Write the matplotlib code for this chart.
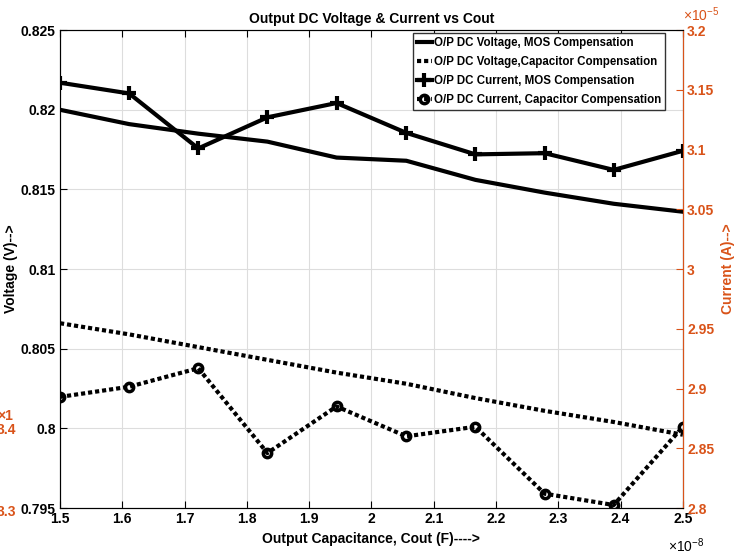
import numpy as np
import matplotlib
matplotlib.use('Agg')
import matplotlib.pyplot as plt

plt.rcParams['font.family'] = ['Liberation Sans', 'DejaVu Sans']
plt.rcParams['font.weight'] = 'bold'
plt.rcParams['mathtext.fontset'] = 'custom'
plt.rcParams['mathtext.rm'] = 'Liberation Sans'
plt.rcParams['mathtext.default'] = 'regular'

# data (x in 1e-8 F, current in 1e-5 A)
cout = [1.5, 1.611, 1.722, 1.833, 1.944, 2.056, 2.167, 2.278, 2.389, 2.5]
v_mos = [0.8200, 0.8191, 0.8185, 0.8180, 0.8170, 0.8168, 0.8156, 0.8148, 0.8141, 0.8136]
v_cap = [0.8066, 0.8059, 0.8051, 0.8043, 0.8035, 0.8028, 0.8019, 0.8011, 0.8004, 0.7996]
i_mos = [3.156, 3.147, 3.101, 3.127, 3.139, 3.114, 3.096, 3.097, 3.083, 3.099]
i_cap = [2.893, 2.9015, 2.917, 2.846, 2.885, 2.860, 2.868, 2.812, 2.8025, 2.868]
xticks = [1.5, 1.6, 1.7, 1.8, 1.9, 2.0, 2.1, 2.2, 2.3, 2.4, 2.5]
vticks = [0.795, 0.8, 0.805, 0.81, 0.815, 0.82, 0.825]
iticks = [2.8, 2.85, 2.9, 2.95, 3.0, 3.05, 3.1, 3.15, 3.2]

orange = '#D95319'
dot = (0, (1.0, 0.7))
fs = 10

fig = plt.figure(figsize=(7.39, 5.58), dpi=100)
ax = fig.add_axes([0.0812, 0.0896, 0.8428, 0.8564])
ax2 = ax.twinx()

l1, = ax.plot(cout, v_mos, color='black', lw=3)
l2, = ax.plot(cout, v_cap, color='black', lw=3, linestyle=dot, dash_capstyle='butt')
l3, = ax2.plot(cout, i_mos, color='black', lw=3, marker='+', ms=10, mew=3)
l4, = ax2.plot(cout, i_cap, color='black', lw=3, linestyle=dot, dash_capstyle='butt',
               marker='o', ms=6, mfc='none', mew=2.5)

ax.set_xlim(1.5, 2.5)
ax.set_ylim(0.795, 0.825)
ax2.set_ylim(2.8, 3.2)
ax.set_xticks(xticks)
ax.set_xticklabels(['%g' % t for t in xticks])
ax.set_yticks(vticks)
ax.set_yticklabels(['%g' % t for t in vticks])
ax2.set_yticks(iticks)
ax2.set_yticklabels(['%g' % t for t in iticks])

ax.grid(True, color='#dddddd', lw=0.8)
ax.tick_params(direction='in', labelsize=fs, top=True, right=False, length=5, pad=3)
ax2.tick_params(direction='in', labelsize=fs, colors=orange, length=5, pad=3)
for s in ['left', 'bottom', 'top']:
    ax.spines[s].set_color('#262626')
ax2.spines['right'].set_color(orange)
for lab in ax.get_xticklabels() + ax.get_yticklabels() + ax2.get_yticklabels():
    lab.set_fontweight('bold')

# exponent labels of the axes
ax.text(1.005, -0.06, r'$\times10^{-8}$', transform=ax.transAxes, fontsize=10,
        ha='center', va='top', fontweight='normal')
ax2.text(1.0, 1.012, r'$\times10^{-5}$', transform=ax2.transAxes, fontsize=10,
         ha='left', va='bottom', color=orange, fontweight='normal')

ax.set_title('Output DC Voltage & Current vs Cout', fontsize=fs, fontweight='bold', pad=5)
ax.set_xlabel('Output Capacitance, Cout (F)---->', fontsize=fs, fontweight='bold', labelpad=4)
ax.set_ylabel('Voltage (V)-->', fontsize=fs, fontweight='bold', labelpad=2)
ax2.set_ylabel('Current (A)-->', fontsize=fs, fontweight='bold', color=orange, labelpad=5)

leg = ax2.legend([l1, l2, l3, l4],
                 ['O/P DC Voltage, MOS Compensation',
                  'O/P DC Voltage,Capacitor Compensation',
                  'O/P DC Current, MOS Compensation',
                  'O/P DC Current, Capacitor Compensation'],
                 loc='upper right', bbox_to_anchor=(0.972, 0.994), fontsize=8.3,
                 handlelength=1.3, handletextpad=0.2, borderpad=0.35, labelspacing=0.6,
                 borderaxespad=0, fancybox=False, framealpha=1, edgecolor='#333333')
for t in leg.get_texts():
    t.set_fontweight('bold')

# cut-off remnants at the left edge of the picture
fig.text(-0.004, 0.248, '\u00d71', color=orange, fontsize=fs, fontweight='bold')
fig.text(-0.004, 0.222, '3.4', color=orange, fontsize=fs, fontweight='bold')
fig.text(-0.004, 0.075, '3.3', color=orange, fontsize=fs, fontweight='bold')

fig.savefig('out.png', dpi=100)
